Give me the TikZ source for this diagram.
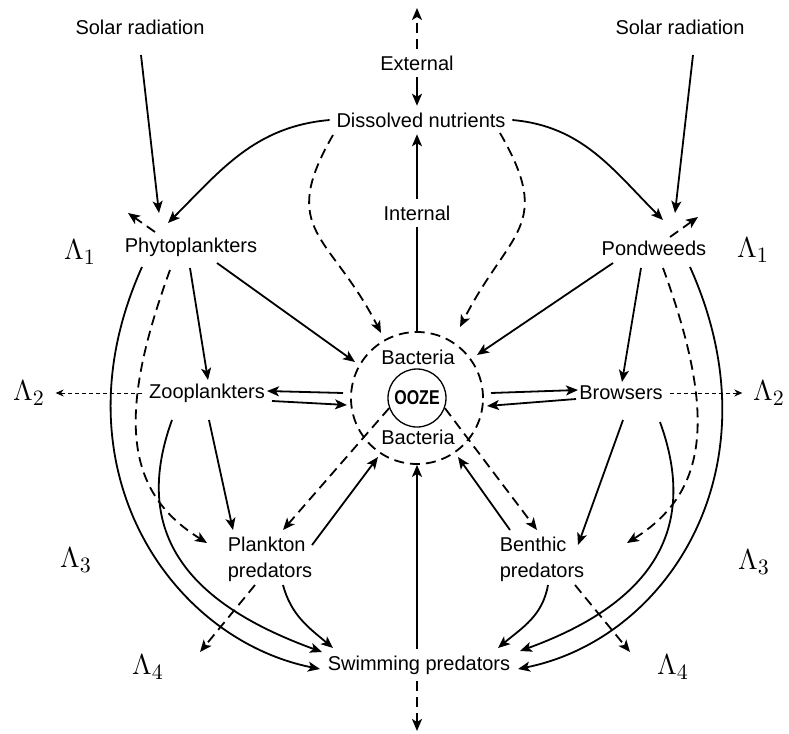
\documentclass[tikz,border=0pt]{standalone}
\usepackage{amsmath,amssymb}
\usepackage{fontspec}
\setmainfont{Liberation Sans}
\usetikzlibrary{arrows.meta}

\begin{document}
\begin{tikzpicture}[x=0.5pt, y=-0.5pt, line width=0.9pt,
    >={Stealth[length=6pt,width=5pt,inset=1.5pt]},
    lbl/.style={inner sep=3pt, font=\fontsize{10}{13}\selectfont},
    lam/.style={inner sep=2pt, font=\fontsize{15}{17}\selectfont},
    leak/.style={->, dash pattern=on 5pt off 3pt},
    loss/.style={-{Stealth[length=4pt,width=3.5pt]}, line width=0.5pt,
      dash pattern=on 2pt off 1.5pt, shorten >=3pt}]
  \useasboundingbox (0,0) rectangle (789,734);

  % Sources
  \node[lbl] (solL) at (140,27) {Solar radiation};
  \node[lbl] (solR) at (680,27) {Solar radiation};
  \node[lbl] (ext) at (417,63) {External};
  \node[lbl] (dis) at (421,120) {Dissolved nutrients};
  \node[lbl] (int) at (417,213) {Internal};
  \coordinate (extTop) at (417,8);

  % Producers and consumers
  \node[lbl] (phy) at (191,247) {Phytoplankters};
  \node[lbl] (pond) at (654,248) {Pondweeds};
  \node[lbl] (zoo) at (207,393) {Zooplankters};
  \node[lbl] (brow) at (621,393) {Browsers};
  \node[lbl, align=left] (plk) at (270,559) {Plankton\\predators};
  \node[lbl, align=left] (ben) at (542,559) {Benthic\\predators};
  \node[lbl] (swim) at (419,665) {Swimming predators};
  \coordinate (swimBot) at (417,731);

  % Ooze
  \node[circle, draw, dash pattern=on 5pt off 3pt, minimum size=66pt, inner sep=0pt] (bact) at (417,398) {};
  \node[circle, draw, line width=0.65pt, minimum size=29pt, inner sep=0pt] (ooze) at (417,398)
    {\scalebox{0.8}[1]{\bfseries OOZE}};
  \node[lbl] (bacN) at (418,357) {Bacteria};
  \node[lbl] (bacS) at (418,437) {Bacteria};

  % Losses
  \node[lam] (L1a) at (80,252) {$\Lambda_1$};
  \node[lam] (L1b) at (753,250) {$\Lambda_1$};
  \node[lam] (L2a) at (29,393) {$\Lambda_2$};
  \node[lam] (L2b) at (769,393) {$\Lambda_2$};
  \node[lam] (L3a) at (76,560) {$\Lambda_3$};
  \node[lam] (L3b) at (754,562) {$\Lambda_3$};
  \node[lam] (L4a) at (148,667) {$\Lambda_4$};
  \node[lam] (L4b) at (673,667) {$\Lambda_4$};
  \coordinate (phyOut) at (128,213);
  \coordinate (pondOut) at (698,217);
  \coordinate (plkOut) at (200,652);
  \coordinate (benOut) at (630,652);

  % Nutrient cycle
  \draw[leak] (ext) -- (extTop);
  \draw[->] (ext) -- (ext |- dis.north);
  \draw (bact) -- (int);
  \draw[->] (int) -- (int |- dis.south);
  \draw[leak] ([shift={(-88,15)}]dis.center) to[out=240,in=117,looseness=1.4] ([shift={(-36,-65)}]bact.center);
  \draw[leak] ([shift={(79,13)}]dis.center) to[out=300,in=63,looseness=1.4] ([shift={(43,-71)}]bact.center);
  \draw[->] (swim.north -| bact) -- (bact);
  \draw[leak] (swim.south -| bact) -- (swimBot);

  % Left side
  \draw[->] ([shift={(1,28)}]solL.center) -- ([shift={(-32,-34)}]phy.center);
  \draw[->] (dis.west) to[out=185,in=45] ([shift={(-23,-24)}]phy.center);
  \draw[leak] ([shift={(-36,-15)}]phy.center) -- (phyOut);
  \draw[->] ([shift={(-1,21)}]phy.center) -- ([shift={(1,-13)}]zoo.center);
  \draw[->] ([shift={(26,16)}]phy.center) -- ([shift={(-62,-36)}]bact.center);
  \draw[leak] ([shift={(-21,23)}]phy.center) .. controls +(-55,150) and +(-80,-50) .. ([shift={(-63,-16)}]plk.center);
  \draw[->] ([shift={(-49,20)}]phy.center) .. controls +(-90,200) and +(-150,-30) .. ([shift={(-99,4)}]swim.center);
  \draw[->] ([shift={(-35,27)}]zoo.center) to[out=250,in=160,looseness=1.2] ([shift={(-97,-13)}]swim.center);
  \draw[->] ([shift={(2,27)}]zoo.center) -- ([shift={(-37,-29)}]plk.center);
  \draw[->] ([shift={(-74,-5)}]bact.center) -- ([shift={(60,-2)}]zoo.center);
  \draw[->] ([shift={(65,8)}]zoo.center) -- ([shift={(-70,7)}]bact.center);
  \draw[loss] (zoo) -- (L2a);
  \draw[->] ([shift={(42,-14)}]plk.center) -- ([shift={(-39,59)}]bact.center);
  \draw[leak] (ooze.200) -- ([shift={(13,-29)}]plk.center);
  \draw[->] ([shift={(13,26)}]plk.center) to[out=-75,in=140] ([shift={(-86,-17)}]swim.center);
  \draw[leak] ([shift={(-15,26)}]plk.center) -- (plkOut);

  % Right side
  \draw[->] ([shift={(13,28)}]solR.center) -- ([shift={(21,-35)}]pond.center);
  \draw[->] (dis.east) to[out=-5,in=135] ([shift={(9,-28)}]pond.center);
  \draw[leak] ([shift={(16,-11)}]pond.center) -- (pondOut);
  \draw[->] ([shift={(-13,20)}]pond.center) -- ([shift={(1,-11)}]brow.center);
  \draw[->] ([shift={(-41,15)}]pond.center) -- ([shift={(60,-43)}]bact.center);
  \draw[leak] ([shift={(9,20)}]pond.center) .. controls +(55,150) and +(80,-50) .. ([shift={(85,-16)}]ben.center);
  \draw[->] ([shift={(36,19)}]pond.center) .. controls +(90,200) and +(150,-30) .. ([shift={(99,4)}]swim.center);
  \draw[->] ([shift={(39,29)}]brow.center) to[out=290,in=20,looseness=1.2] ([shift={(101,-14)}]swim.center);
  \draw[->] ([shift={(2,27)}]brow.center) -- ([shift={(36,-14)}]ben.center);
  \draw[->] ([shift={(74,-5)}]bact.center) -- ([shift={(-43,-3)}]brow.center);
  \draw[->] ([shift={(-45,6)}]brow.center) -- ([shift={(70,8)}]bact.center);
  \draw[loss] (brow) -- (L2b);
  \draw[->] ([shift={(-32,-29)}]ben.center) -- ([shift={(41,59)}]bact.center);
  \draw[leak] (ooze.-20) -- ([shift={(-5,-29)}]ben.center);
  \draw[->] ([shift={(6,26)}]ben.center) to[out=-100,in=40] ([shift={(79,-17)}]swim.center);
  \draw[leak] ([shift={(33,26)}]ben.center) -- (benOut);
\end{tikzpicture}
\end{document}
